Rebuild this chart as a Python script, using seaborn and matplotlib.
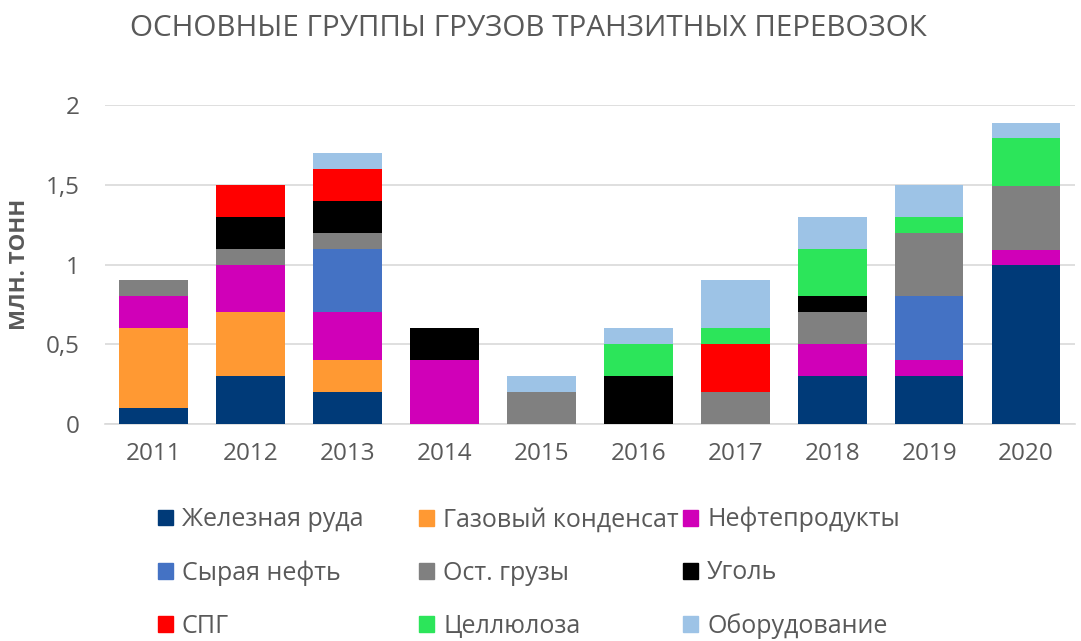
import numpy as np
import pandas as pd
import matplotlib
matplotlib.use("Agg")
import matplotlib.pyplot as plt
import matplotlib.patches as mpatches
from matplotlib.ticker import FuncFormatter
import seaborn as sns

years = ["2011", "2012", "2013", "2014", "2015", "2016", "2017", "2018", "2019", "2020"]

iron_ore = [0.1, 0.3, 0.2, 0, 0, 0, 0, 0.3, 0.3, 1.0]
gas_condensate = [0.5, 0.4, 0.2, 0, 0, 0, 0, 0, 0, 0]
oil_products = [0.2, 0.3, 0.3, 0.4, 0, 0, 0, 0.2, 0.1, 0.09]
crude_oil = [0, 0, 0.4, 0, 0, 0, 0, 0, 0.4, 0]
other_cargo = [0.1, 0.1, 0.1, 0, 0.2, 0, 0.2, 0.2, 0.4, 0.4]
coal = [0, 0.2, 0.2, 0.2, 0, 0.3, 0, 0.1, 0, 0]
lng = [0, 0.2, 0.2, 0, 0, 0, 0.3, 0, 0, 0]
cellulose = [0, 0, 0, 0, 0, 0.2, 0.1, 0.3, 0.1, 0.3]
equipment = [0, 0, 0.1, 0, 0.1, 0.1, 0.3, 0.2, 0.2, 0.1]

cargo_names = ["Железная руда", "Газовый конденсат", "Нефтепродукты",
               "Сырая нефть", "Ост. грузы", "Уголь",
               "СПГ", "Целлюлоза", "Оборудование"]
series = [iron_ore, gas_condensate, oil_products, crude_oil, other_cargo,
          coal, lng, cellulose, equipment]
colors = ["#003A78", "#FF9933", "#D000B8", "#4472C4", "#808080",
          "#000000", "#FF0000", "#2CE55A", "#9DC3E6"]

df = pd.DataFrame({"year": years})
for name, vals in zip(cargo_names, series):
    df[name] = vals

sns.set_theme(style="white")
plt.rcParams["font.family"] = ["Open Sans", "DejaVu Sans"]
text_gray = "#595959"

fig = plt.figure(figsize=(10.81, 6.41), dpi=100)
ax = fig.add_axes([0.097, 0.3385, 0.897, 0.4977])

# stacked bars, one layer per cargo group
bottom = np.zeros(len(years))
for name, col in zip(cargo_names, colors):
    sns.barplot(data=df, x="year", y=name, color=col, bottom=bottom,
                width=0.71, linewidth=0, saturation=1, ax=ax, zorder=3)
    bottom = bottom + df[name].values

ax.set_ylim(0, 2)
ax.set_yticks([0, 0.5, 1, 1.5, 2])
ax.yaxis.set_major_formatter(FuncFormatter(lambda v, p: f"{v:g}".replace(".", ",")))
ax.grid(axis="y", color="#d9d9d9", linewidth=1.2, zorder=0)
ax.set_axisbelow(True)
for s in ["top", "right", "left"]:
    ax.spines[s].set_visible(False)
ax.spines["bottom"].set_color("#d9d9d9")
ax.spines["bottom"].set_linewidth(1.2)
ax.tick_params(axis="both", length=0, labelsize=17.5, colors=text_gray)
ax.tick_params(axis="x", pad=13)
ax.tick_params(axis="y", pad=18)
ax.set_xlabel("")
ax.set_ylabel("")

fig.text(0.489, 0.955, "ОСНОВНЫЕ ГРУППЫ ГРУЗОВ ТРАНЗИТНЫХ ПЕРЕВОЗОК",
         ha="center", va="center", fontsize=21.3, color=text_gray)
fig.text(0.018, 0.588, "МЛН. ТОНН", rotation=90, ha="center", va="center",
         fontsize=16, fontweight="bold", color=text_gray)

# legend: three columns placed separately
handles = [mpatches.Patch(color=c, label=n) for n, c in zip(cargo_names, colors)]
col_x = [0.146, 0.388, 0.632]
for j, x0 in enumerate(col_x):
    idx = [j, j + 3, j + 6]
    leg = fig.legend([handles[i] for i in idx], [cargo_names[i] for i in idx],
                     loc="center left", bbox_to_anchor=(x0, 0.106),
                     frameon=False, fontsize=18, handlelength=0.6, handleheight=0.6,
                     handletextpad=0.36, labelspacing=1.12,
                     borderaxespad=0, borderpad=0)
    for t in leg.get_texts():
        t.set_color(text_gray)

fig.savefig("out.png", dpi=100)
